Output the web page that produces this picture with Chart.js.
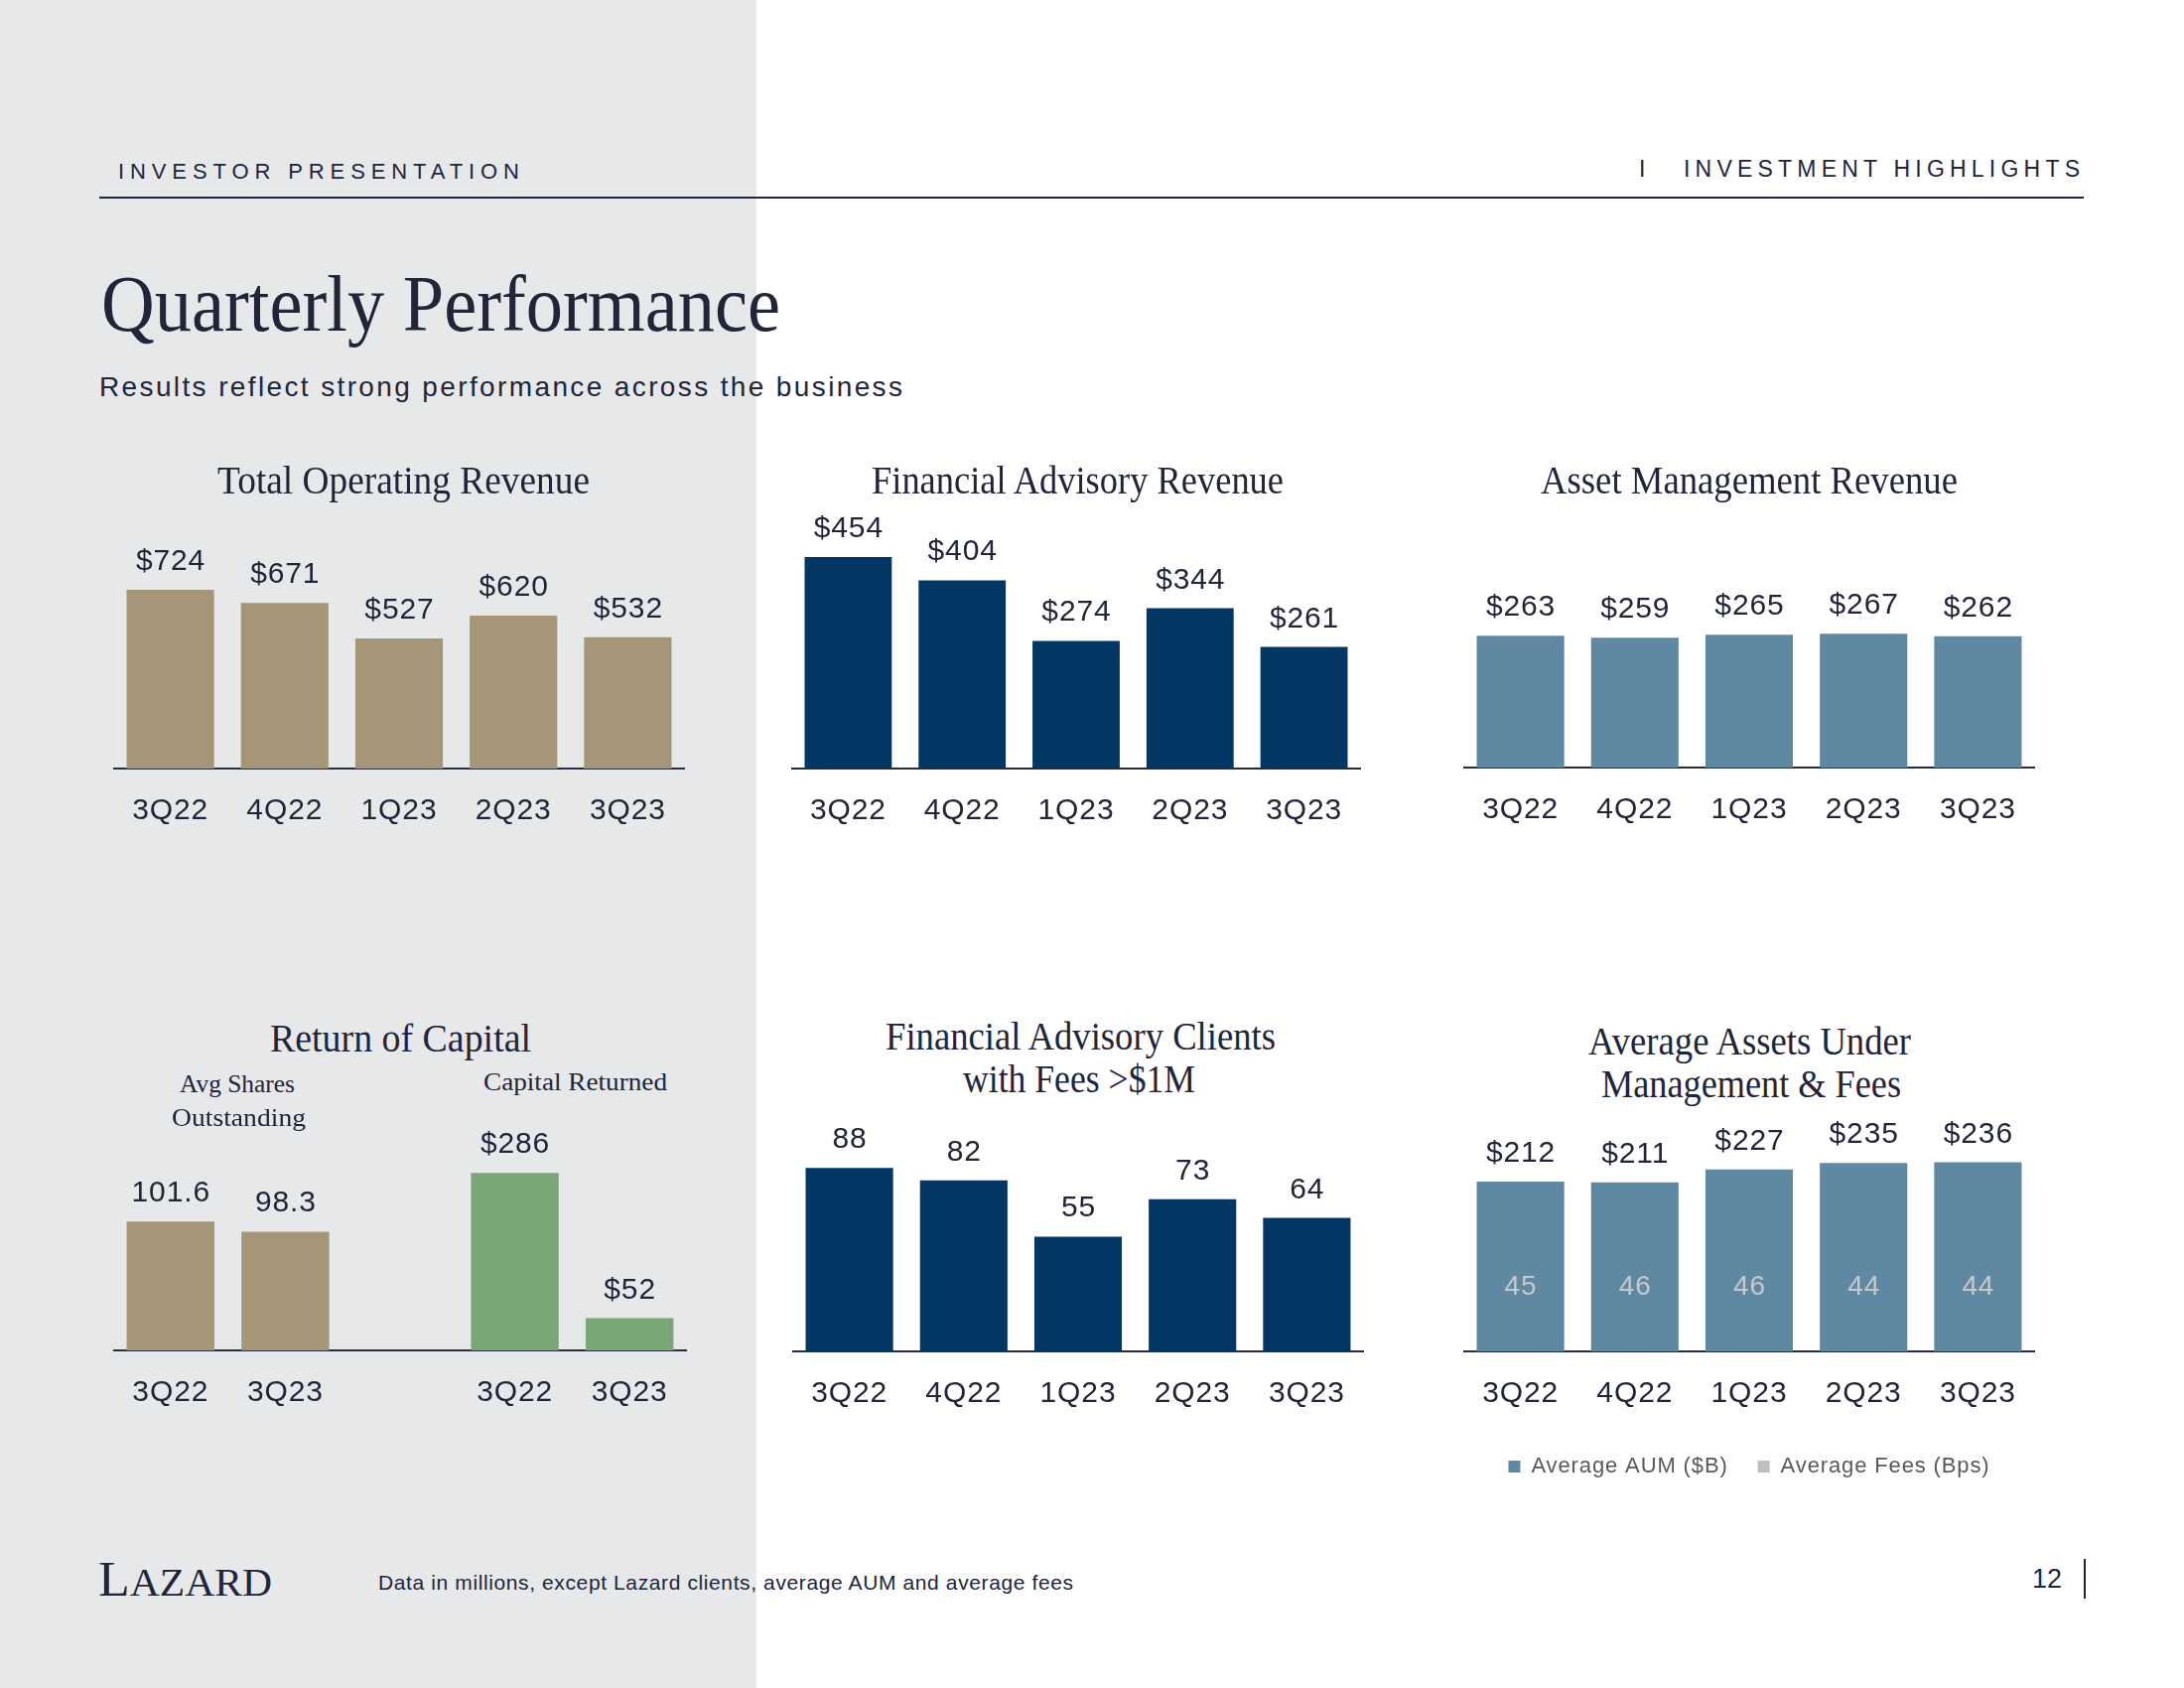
<!DOCTYPE html>
<html>
<head>
<meta charset="utf-8">
<title>Quarterly Performance</title>
<script src="https://cdn.jsdelivr.net/npm/chart.js@4.4.0/dist/chart.umd.min.js"></script>
<style>
  html, body { margin: 0; padding: 0; }
  body { width: 2200px; height: 1700px; position: relative; overflow: hidden; background: #ffffff; }
  #panel { position: absolute; left: 0; top: 0; width: 762px; height: 1700px; background: #e7e8ea; }
  .t { position: absolute; white-space: nowrap; line-height: 1; transform-origin: 0 0; }
  .rule { position: absolute; background: #22253a; }
  canvas { position: absolute; }
</style>
</head>
<body>
<div id="panel"></div>
<script>
// ---------------- DATA ----------------
const quarters = ['3Q22', '4Q22', '1Q23', '2Q23', '3Q23'];
const totalOperatingRevenue = [724, 671, 527, 620, 532];
const financialAdvisoryRevenue = [454, 404, 274, 344, 261];
const assetManagementRevenue = [263, 259, 265, 267, 262];

const sharesQuarters = ['3Q22', '3Q23'];
const avgSharesOutstanding = [101.6, 98.3];
const capitalQuarters = ['3Q22', '3Q23'];
const capitalReturned = [286, 52];

const advisoryClientsOver1M = [88, 82, 55, 73, 64];
const averageAUM = [212, 211, 227, 235, 236];
const averageFeesBps = [45, 46, 46, 44, 44];

// ---------------- STYLE ----------------
const INK = '#22253a';
const AXIS = '#2b2d3c';
const TAN = '#a49677';
const NAVY = '#023764';
const STEEL = '#5f88a3';
const GREEN = '#79a776';
const FEE_GRAY = '#bfbfbf';
const FEE_TEXT = '#c6c8ca';
const LEGEND_TEXT = '#58595b';
const SERIF = '"Liberation Serif","Times New Roman",serif';

function fontAvailable(name) {
  const c = document.createElement('canvas').getContext('2d');
  const s = 'Quarterly 3Q22 $724 abcdefghij';
  c.font = '40px monospace';
  const a = c.measureText(s).width;
  c.font = '40px "' + name + '", monospace';
  return c.measureText(s).width !== a;
}
const SANS = fontAvailable('Liberation Sans Narrow')
  ? '"Liberation Sans Narrow","Liberation Sans",Arial,sans-serif'
  : '"Liberation Sans",Arial,sans-serif';

const LABEL_SIZE = 30;
const FEE_SIZE = 28;
const LEGEND_SIZE = 22;
// letter spacing so that a tick like "3Q22" spans ~76px as in the reference
const LS = (function () {
  const c = document.createElement('canvas').getContext('2d');
  c.font = LABEL_SIZE + 'px ' + SANS;
  return Math.max(0, (76 - c.measureText('3Q22').width) / 3);
})();

// ---------------- TEXT HELPERS ----------------
function place(str, o) {
  const el = document.createElement('div');
  el.className = 't';
  el.textContent = str;
  el.style.fontFamily = o.serif ? SERIF : SANS;
  el.style.fontSize = o.size + 'px';
  el.style.color = o.color || INK;
  document.body.appendChild(el);
  const w0 = el.getBoundingClientRect().width;
  let W = w0;
  if (o.w) {
    if (o.serif) {
      el.style.transform = 'scaleX(' + (o.w / w0) + ')';
    } else {
      const n = [...str].length;
      el.style.letterSpacing = ((o.w - w0) / Math.max(1, n - 1)) + 'px';
    }
    W = o.w;
  }
  const k = o.serif ? 0.8375 : 0.8465;
  let left = o.x;
  if (o.align === 'center') left = o.x - W / 2;
  else if (o.align === 'right') left = o.x - W;
  el.style.left = left + 'px';
  el.style.top = (o.base - k * o.size) + 'px';
  return el;
}
function rule(x, y, w, h) {
  const d = document.createElement('div');
  d.className = 'rule';
  d.style.left = x + 'px'; d.style.top = y + 'px';
  d.style.width = w + 'px'; d.style.height = h + 'px';
  document.body.appendChild(d);
}

// ---------------- CHART HELPERS ----------------
const spacingPlugin = {
  id: 'spacing',
  beforeLayout(chart) { chart.ctx.letterSpacing = LS + 'px'; },
  beforeDraw(chart) { chart.ctx.letterSpacing = LS + 'px'; }
};

const valueLabels = {
  id: 'valueLabels',
  afterDatasetsDraw(chart) {
    const ctx = chart.ctx;
    ctx.save();
    ctx.letterSpacing = LS + 'px';
    ctx.textAlign = 'center';
    chart.data.datasets.forEach((ds, i) => {
      const meta = chart.getDatasetMeta(i);
      meta.data.forEach((el, j) => {
        const v = ds.data[j];
        if (v === null || v === undefined) return;
        const txt = (ds.prefix || '') + (ds.digits ? v.toFixed(ds.digits) : String(v));
        if (ds.inside) {
          ctx.font = FEE_SIZE + 'px ' + SANS;
          ctx.fillStyle = FEE_TEXT;
          ctx.textBaseline = 'middle';
          ctx.fillText(txt, el.x + LS / 2, chart.chartArea.bottom - 65);
        } else {
          ctx.font = LABEL_SIZE + 'px ' + SANS;
          ctx.fillStyle = INK;
          ctx.textBaseline = 'alphabetic';
          ctx.fillText(txt, el.x + LS / 2, el.y - 20);
        }
      });
    });
    ctx.restore();
  }
};

const LEGEND_PAD = 30;
const LEGEND_H = LEGEND_SIZE + LEGEND_PAD + 10; // Chart.js horizontal legend height

function barChart(o) {
  const xH = o.xH || 70;   // height reserved under the axis for tick labels
  const W = o.right - o.left;
  const H = (o.axis - o.top) + xH + (o.legend ? LEGEND_H : 0);
  const cv = document.createElement('canvas');
  cv.width = W; cv.height = H;
  cv.style.left = o.left + 'px'; cv.style.top = o.top + 'px';
  cv.style.width = W + 'px'; cv.style.height = H + 'px';
  document.body.appendChild(cv);

  const scales = Object.assign({
    x: {
      type: 'category',
      offset: true,
      grid: { display: false, drawTicks: false },
      border: { display: true, color: AXIS, width: 2 },
      ticks: {
        color: INK,
        font: { family: SANS, size: LABEL_SIZE, lineHeight: 1.2 },
        padding: 25,
        autoSkip: false,
        maxRotation: 0,
        minRotation: 0
      },
      afterFit(s) { s.height = xH; s.paddingLeft = 0; s.paddingRight = 0; }
    }
  }, o.yScales);

  return new Chart(cv, {
    type: 'bar',
    data: { labels: o.labels, datasets: o.datasets },
    options: {
      responsive: false,
      animation: false,
      devicePixelRatio: 1,
      events: [],
      layout: { padding: 0 },
      datasets: { bar: { categoryPercentage: 1.0, barPercentage: 0.765, borderWidth: 0 } },
      plugins: {
        tooltip: { enabled: false },
        legend: o.legend ? {
          display: true,
          position: 'bottom',
          labels: {
            boxWidth: 12, boxHeight: 12, padding: LEGEND_PAD,
            color: LEGEND_TEXT,
            font: { family: SANS, size: LEGEND_SIZE }
          }
        } : { display: false }
      },
      scales: scales
    },
    plugins: [spacingPlugin, valueLabels]
  });
}

// ---------------- SLIDE FRAME ----------------
place('INVESTOR PRESENTATION', { x: 119, base: 181, size: 22, w: 404 });
place('I', { x: 1651, base: 178, size: 23 });
place('INVESTMENT HIGHLIGHTS', { x: 1696, base: 178, size: 23, w: 399 });
rule(100, 198, 1999, 2);

place('Quarterly Performance', { x: 102, base: 333, size: 80, serif: true, w: 684 });
place('Results reflect strong performance across the business', { x: 100, base: 400, size: 28, w: 809 });

// ---------------- CHARTS ----------------
// 1. Total Operating Revenue
barChart({
  left: 114, right: 690, top: 470, axis: 774,
  labels: quarters,
  datasets: [{ label: 'Total Operating Revenue', data: totalOperatingRevenue, backgroundColor: TAN, prefix: '$' }],
  yScales: { y: { display: false, min: 0, max: 1223 } }
});
// 2. Financial Advisory Revenue
barChart({
  left: 797, right: 1371, top: 470, axis: 774,
  labels: quarters,
  datasets: [{ label: 'Financial Advisory Revenue', data: financialAdvisoryRevenue, backgroundColor: NAVY, prefix: '$' }],
  yScales: { y: { display: false, min: 0, max: 648 } }
});
// 3. Asset Management Revenue
barChart({
  left: 1474, right: 2050, top: 470, axis: 773,
  labels: quarters,
  datasets: [{ label: 'Asset Management Revenue', data: assetManagementRevenue, backgroundColor: STEEL, prefix: '$' }],
  yScales: { y: { display: false, min: 0, max: 600 } }
});
// 4. Return of Capital (two groups on one axis line, gap between them)
const rocLabels = [...sharesQuarters, '', ...capitalQuarters];
const rocShares = [...avgSharesOutstanding, null, ...capitalQuarters.map(() => null)];
const rocCapital = [...sharesQuarters.map(() => null), null, ...capitalReturned];
barChart({
  left: 114, right: 692, top: 1110, axis: 1360,
  labels: rocLabels,
  datasets: [
    { label: 'Avg Shares Outstanding', data: rocShares, backgroundColor: TAN, yAxisID: 'y', grouped: false, digits: 1 },
    { label: 'Capital Returned', data: rocCapital, backgroundColor: GREEN, yAxisID: 'y2', grouped: false, prefix: '$' }
  ],
  yScales: {
    y: { display: false, min: 60, max: 140.1 },
    y2: { display: false, position: 'right', min: 0, max: 400 }
  }
});
// 5. Financial Advisory Clients with Fees > $1M
barChart({
  left: 798, right: 1374, top: 1110, axis: 1361,
  labels: quarters,
  datasets: [{ label: 'Clients', data: advisoryClientsOver1M, backgroundColor: NAVY }],
  yScales: { y: { display: false, min: 0, max: 119.5 } }
});
// 6. Average AUM & Fees
barChart({
  left: 1474, right: 2050, top: 1121, axis: 1361, legend: true, xH: 75,
  labels: quarters,
  datasets: [
    { label: 'Average AUM ($B)', data: averageAUM, backgroundColor: STEEL, prefix: '$' },
    { type: 'line', label: 'Average Fees (Bps)', data: averageFeesBps, inside: true,
      showLine: false, pointRadius: 0, pointHoverRadius: 0,
      backgroundColor: FEE_GRAY, borderColor: FEE_GRAY, borderWidth: 0 }
  ],
  yScales: { y: { display: false, min: 0, max: 297.4 } }
});

// ---------------- CHART TITLES ----------------
place('Total Operating Revenue', { x: 406, base: 497, size: 40, serif: true, w: 375, align: 'center' });
place('Financial Advisory Revenue', { x: 1085, base: 497, size: 40, serif: true, w: 415, align: 'center' });
place('Asset Management Revenue', { x: 1762, base: 497, size: 40, serif: true, w: 420, align: 'center' });

place('Return of Capital', { x: 403, base: 1059, size: 40, serif: true, w: 263, align: 'center' });
place('Avg Shares', { x: 239, base: 1100, size: 25, serif: true, w: 116, align: 'center' });
place('Outstanding', { x: 240, base: 1134, size: 25, serif: true, w: 135, align: 'center' });
place('Capital Returned', { x: 579, base: 1098, size: 25, serif: true, w: 185, align: 'center' });

place('Financial Advisory Clients', { x: 1088, base: 1057, size: 40, serif: true, w: 393, align: 'center' });
place('with Fees >$1M', { x: 1087, base: 1100, size: 40, serif: true, w: 234, align: 'center' });

place('Average Assets Under', { x: 1762, base: 1062, size: 40, serif: true, w: 325, align: 'center' });
place('Management & Fees', { x: 1764, base: 1105, size: 40, serif: true, w: 302, align: 'center' });

// ---------------- FOOTER ----------------
(function () {
  const el = document.createElement('div');
  el.className = 't';
  el.style.fontFamily = SERIF;
  el.style.fontSize = '50px';
  el.style.color = INK;
  el.innerHTML = '<span style="font-size:50px">L</span><span style="font-size:40px">AZARD</span>';
  document.body.appendChild(el);
  const w0 = el.getBoundingClientRect().width;
  el.style.transform = 'scaleX(' + (175 / w0) + ')';
  el.style.left = '99px';
  el.style.top = (1607 - 0.8375 * 50) + 'px';
})();
place('Data in millions, except Lazard clients, average AUM and average fees', { x: 381, base: 1601, size: 21, w: 700 });
place('12', { x: 2077, base: 1600, size: 27, align: 'right' });
rule(2099, 1570, 2, 40);
</script>
</body>
</html>
